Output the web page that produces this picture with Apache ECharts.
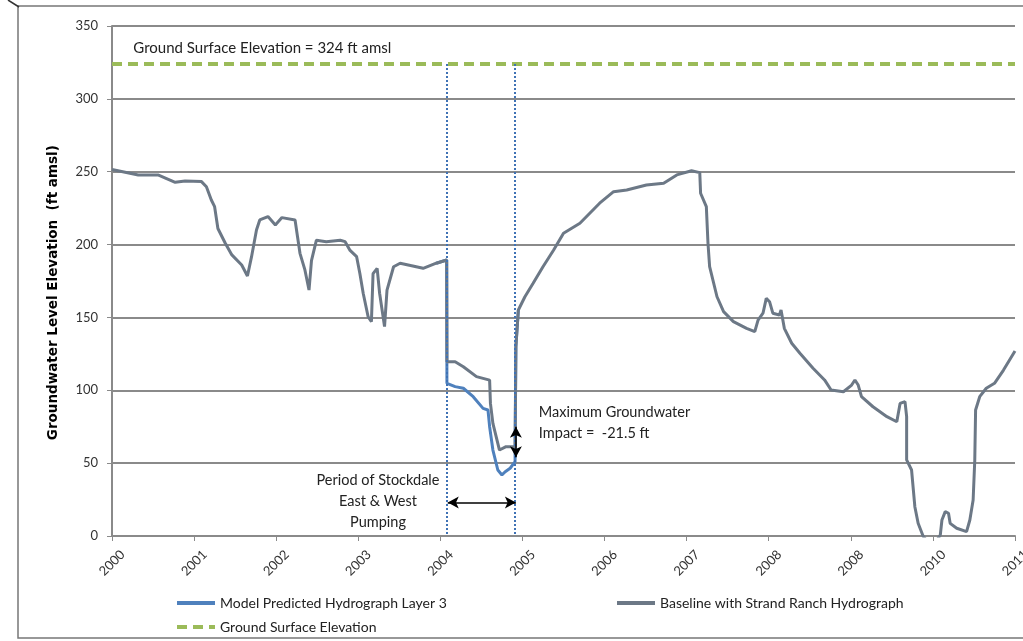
<!DOCTYPE html>
<html>
<head>
<meta charset="utf-8">
<script src="https://cdn.jsdelivr.net/npm/echarts@6/dist/echarts.min.js"></script>
<style>html,body{margin:0;padding:0;background:#fff}#c{width:1023px;height:641px}</style>
</head>
<body>
<div id="c"></div>
<script>
// ---- data ----
const tickLabels = ['2000','2001','2002','2003','2004','2005','2006','2007','2008','2008','2010','2011'];
const yTicks = [0, 50, 100, 150, 200, 250, 300, 350];
const groundElevation = 324;
const pumpStart = 2004.08;
const pumpEnd = 2004.91;

// Baseline with Strand Ranch Hydrograph: [decimal year, ft amsl]
const baseline = [
 [2000.00,251.5],[2000.32,247.8],[2000.56,247.8],[2000.77,242.7],[2000.89,243.6],[2001.09,243.2],
 [2001.15,239.7],[2001.21,230.6],[2001.25,226],[2001.29,211],[2001.38,200.9],[2001.46,192.9],
 [2001.58,186],[2001.65,178.4],[2001.70,191.7],[2001.76,210],[2001.80,216.9],[2001.90,219.2],
 [2001.99,213.5],[2002.07,218.5],[2002.23,216.9],[2002.26,205.4],[2002.29,194],[2002.35,182.6],
 [2002.40,168.8],[2002.43,189],[2002.49,203],[2002.61,202],[2002.78,203],[2002.84,202],
 [2002.90,196],[2002.98,191.7],[2003.02,180],[2003.06,166.6],[2003.12,150.5],[2003.16,147],
 [2003.18,180],[2003.23,183.7],[2003.26,166.6],[2003.32,143.7],[2003.35,168.8],[2003.43,184.8],
 [2003.51,187.2],[2003.79,183.7],[2003.95,187.2],[2004.077,189.4],
 [2004.08,119.6],[2004.18,119.6],[2004.28,116.2],[2004.44,109.4],[2004.60,107],[2004.61,91],
 [2004.64,77.3],[2004.72,59],[2004.80,61.3],[2004.86,61.3],[2004.91,61.3],[2004.92,130],
 [2004.95,155.1],[2005.03,164.2],[2005.13,173.4],[2005.25,184.8],[2005.38,196.3],[2005.50,207.8],
 [2005.70,214.6],[2005.82,221.5],[2005.94,228.4],[2006.11,236.3],[2006.27,237.5],[2006.51,240.9],
 [2006.72,242.1],[2006.88,247.8],[2007.06,250.7],[2007.16,249.4],[2007.17,235.2],[2007.24,226],
 [2007.26,200.9],[2007.28,184.8],[2007.37,164.2],[2007.45,154],[2007.57,147.1],[2007.73,142.5],
 [2007.83,140.2],[2007.87,148.2],[2007.93,152.9],[2007.97,163.1],[2008.01,160.8],[2008.05,152.9],
 [2008.13,151.7],[2008.15,155.1],[2008.19,142.5],[2008.28,132.3],[2008.38,125.4],[2008.54,115.1],
 [2008.68,107.1],[2008.76,100.2],[2008.91,99],[2009.01,103.6],[2009.05,107.1],[2009.09,103.6],
 [2009.13,95.6],[2009.27,88.7],[2009.44,81.9],[2009.56,78.4],[2009.60,91],[2009.66,92.2],
 [2009.68,81.9],[2009.68,52.2],[2009.74,45.3],[2009.78,20.1],[2009.82,8.7],[2009.88,0],
 [2009.99,-8],[2010.09,0.7],[2010.11,11],[2010.15,16.7],[2010.19,15.6],[2010.21,8.7],
 [2010.29,5.3],[2010.41,3],[2010.43,1.8],[2010.45,11],[2010.49,24.7],[2010.51,52.2],
 [2010.52,86.5],[2010.57,95.6],[2010.65,101.4],[2010.75,104.8],[2010.86,113.9],[2011.00,127]
];

// Model Predicted Hydrograph Layer 3 (differs during pumping period)
const model = [
 [2003.95,187.2],[2004.077,189.4],[2004.08,104.8],[2004.18,102.5],[2004.28,101.4],[2004.40,95.6],
 [2004.52,87.6],[2004.58,86.5],[2004.60,75],[2004.64,59],[2004.70,45.3],[2004.75,41.9],
 [2004.79,44.1],[2004.85,46.5],[2004.91,51],[2004.92,130],[2004.95,155.1]
];

const groundLine = [[2000, groundElevation],[2011, groundElevation]];

// ---- chart ----
const FONT = 'Lato, "Open Sans", sans-serif';
const chart = echarts.init(document.getElementById('c'), null, {renderer:'canvas'});
const gridGrey = '#8a8a8a';
const blue = '#4F81BD';
const grey = '#6C7886';
const green = '#9BBB59';

const option = {
  animation: false,
  backgroundColor: '#fff',
  grid: {left: 112, right: 8, top: 26, bottom: 105, containLabel: false, outerBoundsMode: 'none'},
  xAxis: {
    type: 'value', min: 2000, max: 2011, interval: 1,
    axisLine: {show: true, lineStyle: {color: gridGrey, width: 2}},
    axisTick: {show: true, length: 5, lineStyle: {color: gridGrey}},
    splitLine: {show: false},
    axisLabel: {
      rotate: 45, margin: 27, align: 'center', verticalAlign: 'middle',
      color: '#333', fontFamily: FONT, fontSize: 13,
      formatter: v => tickLabels[Math.round(v - 2000)]
    }
  },
  yAxis: {
    type: 'value', min: yTicks[0], max: yTicks[yTicks.length-1], interval: 50,
    axisLine: {show: true, lineStyle: {color: gridGrey, width: 2}},
    axisTick: {show: true, length: 5, lineStyle: {color: gridGrey}},
    splitLine: {show: true, lineStyle: {color: gridGrey, width: 2}},
    axisLabel: {color: '#333', fontFamily: FONT, fontSize: 13, margin: 14}
  },
  legend: [
    {data: ['Model Predicted Hydrograph Layer 3'], left: 170, top: 591},
    {data: ['Baseline with Strand Ranch Hydrograph'], left: 610, top: 591},
    {data: ['Ground Surface Elevation'], left: 170, top: 615}
  ].map(l => Object.assign(l, {
    itemWidth: 38, itemHeight: 10, itemGap: 4,
    itemStyle: {opacity: 0},
    lineStyle: {width: 4},
    textStyle: {fontFamily: FONT, fontSize: 14, color: '#222'}
  })),
  series: [
    {
      name: 'Ground Surface Elevation', type: 'line', data: groundLine, symbol: 'none',
      lineStyle: {color: green, width: 4, type: [10, 6]}, itemStyle: {color: green}, z: 1
    },
    {
      name: 'Model Predicted Hydrograph Layer 3', type: 'line', data: model, symbol: 'none',
      lineStyle: {color: blue, width: 3}, itemStyle: {color: blue}, z: 2,
      markLine: {
        silent: true, symbol: ['none','none'], label: {show: false},
        lineStyle: {color: '#3f72b5', type: 'dotted', width: 2},
        data: [
          [{coord: [pumpStart, groundElevation]}, {coord: [pumpStart, 0]}],
          [{coord: [pumpEnd, groundElevation]}, {coord: [pumpEnd, 0]}]
        ]
      }
    },
    {
      name: 'Baseline with Strand Ranch Hydrograph', type: 'line', data: baseline, symbol: 'none',
      lineStyle: {color: grey, width: 3}, itemStyle: {color: grey}, z: 3,
      markLine: {
        silent: true, symbol: ['arrow','arrow'], symbolSize: [9, 11], label: {show: false},
        lineStyle: {color: '#000', type: 'solid', width: 1.5},
        data: [
          [{coord: [pumpStart + 0.01, 23]}, {coord: [pumpEnd + 0.01, 23]}],
          [{coord: [pumpEnd + 0.01, 75]}, {coord: [pumpEnd + 0.01, 54]}]
        ]
      }
    }
  ]
};
chart.setOption(option);

// annotations anchored with the chart's own scales
const px = (x, y) => chart.convertToPixel({gridIndex: 0}, [x, y]);
const gLbl = px(2000.26, 335);
const impact = px(2005.2, 77.5);
const period = px(2003.24, 24);
const yTitle = px(1999.29, 167);
const txt = (p, text, size, align, lh) => ({
  type: 'text', x: p[0], y: p[1],
  style: {text, fontFamily: FONT, fontSize: size, fill: '#222', align, verticalAlign: 'middle', lineHeight: lh}
});
chart.setOption({
  graphic: [
    txt(gLbl, 'Ground Surface Elevation = 324 ft amsl', 15, 'left', 18),
    txt(impact, 'Maximum Groundwater\nImpact =  -21.5 ft', 14.5, 'left', 21),
    txt(period, 'Period of Stockdale\nEast & West\nPumping', 14.5, 'center', 21),
    {
      type: 'text', x: yTitle[0], y: yTitle[1], rotation: Math.PI / 2,
      style: {text: 'Groundwater Level Elevation  (ft amsl)', fontFamily: '"DejaVu Sans", sans-serif',
              fontWeight: 'bold', fontSize: 13.5, fill: '#000', align: 'center', verticalAlign: 'middle'}
    },
    {type: 'rect', shape: {x: 18, y: 6, width: 1100, height: 632}, style: {fill: 'none', stroke: '#777', lineWidth: 1.5}, silent: true},
    {type: 'line', shape: {x1: 8, y1: 0, x2: 19, y2: 7}, style: {stroke: '#333', lineWidth: 1.5}, silent: true}
  ]
});
</script>
</body>
</html>
